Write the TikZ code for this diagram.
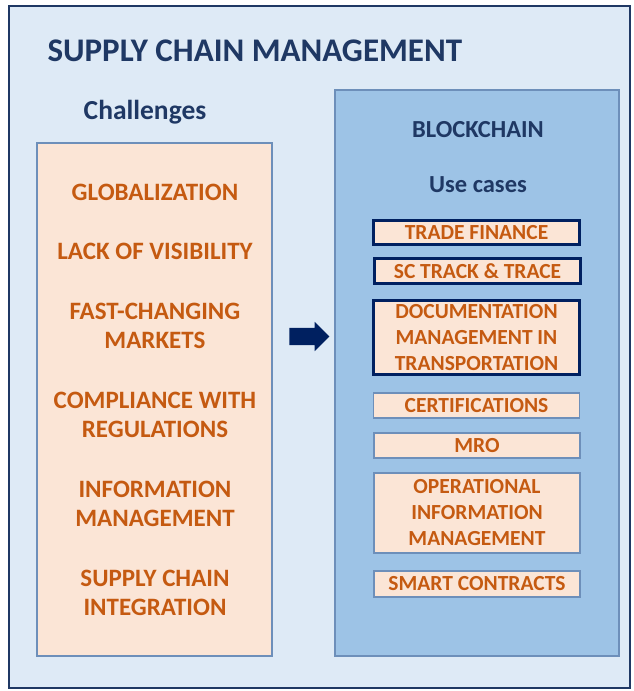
\documentclass[tikz,border=0pt]{standalone}
\usepackage{fontspec}
\setmainfont{Carlito}
\usetikzlibrary{shapes.arrows}
\definecolor{navy}{HTML}{1F3864}
\definecolor{darknavy}{HTML}{002060}
\definecolor{paleblue}{HTML}{DEEAF6}
\definecolor{midblue}{HTML}{9DC3E6}
\definecolor{edgeblue}{HTML}{6D8FBA}
\definecolor{peach}{HTML}{FBE5D6}
\definecolor{rust}{HTML}{C55A11}
\tikzset{
  panel/.style={draw=edgeblue, line width=1.2pt, inner sep=0pt},
  heading/.style={text=navy, font=\bfseries\fontsize{24.5}{28}\selectfont},
  challenge/.style={text=rust, align=center, font=\bfseries\fontsize{25}{29}\selectfont},
  usecase/.style={fill=peach, draw=edgeblue, line width=1.2pt, text=rust, align=center,
    minimum width=206pt, inner sep=0pt, font=\bfseries\fontsize{21.5}{26}\selectfont},
  keycase/.style={usecase, draw=darknavy, line width=3pt, minimum width=206pt}
}
\begin{document}
\begin{tikzpicture}[x=1pt, y=-1pt]
  \useasboundingbox (0,0) rectangle (634,691);
  % frame and panels
  \node[panel, draw=navy, fill=paleblue, minimum width=621pt, minimum height=682pt] (frame) at (319.5,347) {};
  \node[panel, fill=peach, minimum width=235pt, minimum height=513pt] (challenges) at (154.5,399.5) {};
  \node[panel, fill=midblue, minimum width=284pt, minimum height=566pt] (chain) at (477,373) {};
  % headings
  \node[heading, font=\bfseries\fontsize{33}{36}\selectfont, anchor=west] (title) at (44,51) {SUPPLY CHAIN MANAGEMENT};
  \node[heading, font=\bfseries\fontsize{27.5}{30}\selectfont] (chtitle) at (145,112) {Challenges};
  \node[heading] (bctitle) at (478,130) {BLOCKCHAIN};
  \node[heading] (uctitle) at (478,185) {Use cases};
  % challenges
  \node[challenge] (glob) at (155,192) {GLOBALIZATION};
  \node[challenge] (vis) at (155,251) {LACK OF VISIBILITY};
  \node[challenge] (fast) at (155,325.5) {FAST-CHANGING\\MARKETS};
  \node[challenge] (comp) at (155,414.5) {COMPLIANCE WITH\\REGULATIONS};
  \node[challenge] (info) at (155,503.5) {INFORMATION\\MANAGEMENT};
  \node[challenge] (integ) at (155,592.5) {SUPPLY CHAIN\\INTEGRATION};
  % use cases
  \node[keycase, minimum width=206pt, minimum height=24pt] (trade) at (476.5,232.5) {TRADE FINANCE};
  \node[keycase, minimum width=206pt, minimum height=25pt] (track) at (477.5,271) {SC TRACK \& TRACE};
  \node[keycase, minimum width=206pt, minimum height=74pt] (docs) at (476.5,337.5) {DOCUMENTATION\\MANAGEMENT IN\\TRANSPORTATION};
  \node[usecase, minimum height=25pt] (cert) at (476.5,405.5) {CERTIFICATIONS};
  \node[usecase, minimum height=25pt] (mro) at (477,445.5) {MRO};
  \node[usecase, minimum height=80pt] (oper) at (477,513) {OPERATIONAL\\INFORMATION\\MANAGEMENT};
  \node[usecase, minimum height=26pt] (smart) at (477,584) {SMART CONTRACTS};
  % block arrow
  \node[single arrow, fill=darknavy, inner xsep=0pt, inner ysep=8.5pt, single arrow head extend=6pt,
    minimum height=40pt] (go) at (305,336.5) {};
\end{tikzpicture}
\end{document}
